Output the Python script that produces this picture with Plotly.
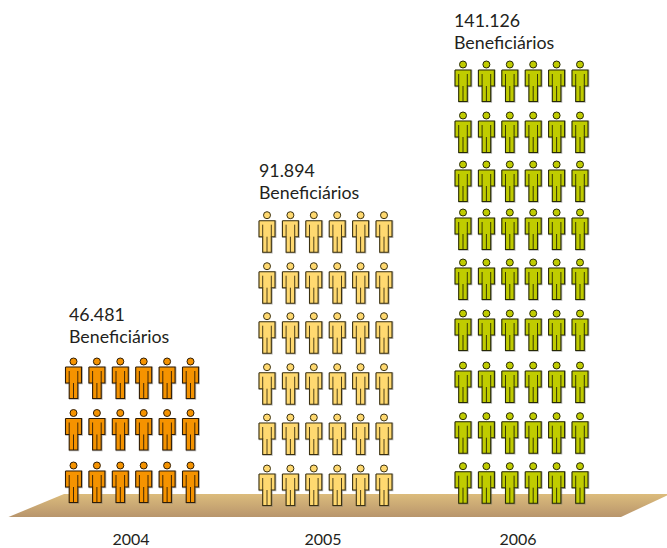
import plotly.graph_objects as go

years = ["2004", "2005", "2006"]
beneficiaries = [46481, 91894, 141126]
value_labels = ["46.481", "91.894", "141.126"]
caption = "Beneficiários"
persons_per_row = 6
beneficiaries_per_row = 15500

# layout of the pictogram (plot units = pixels)
row_tops = [
    [471, 418.5, 367],
    [474, 423, 372.7, 321.7, 271.7, 220.7],
    [471.7, 421.7, 371, 319, 268, 218, 170, 121, 70],
]
col_starts = [73.5, 267, 463]
col_step = 23.4
tick_pos = [131, 323, 518]
label_x = [69, 259, 454]
label_y = [316.5, 172.5, 22.5]
fills = ["#f59300", "#ffd970", "#c0cc00"]
edges = ["#2e1c06", "#3a3010", "#262905"]
floor_x = [64, 670, 621, 8.5, 64]
floor_y = [494, 494, 517, 517, 494]
FONT = "Lato"


def body(cx, t):
    xs = [cx-8, cx+8, cx+8, cx+4.3, cx+4.3, cx-4.3, cx-4.3, cx-8, cx-8, None]
    ys = [t, t, t+16, t+16, t+31.5, t+31.5, t+16, t+16, t, None]
    return xs, ys


def inner(cx, t):
    xs = [cx-4.3, cx-4.3, None, cx+4.3, cx+4.3, None, cx, cx, None]
    ys = [t+4, t+16, None, t+4, t+16, None, t+16, t+31.5, None]
    return xs, ys


fig = go.Figure()
fig.add_trace(go.Scatter(
    x=floor_x, y=floor_y, mode="lines", fill="toself", line=dict(width=0),
    fillgradient=dict(type="vertical", colorscale=[[0, "#b8956c"], [1, "#dcbc7c"]]),
    hoverinfo="skip"))

for i, year in enumerate(years):
    n_rows = round(beneficiaries[i] / beneficiaries_per_row)
    bx, by, ix, iy, sx, sy, hx, hy = [], [], [], [], [], [], [], []
    for t in row_tops[i][:n_rows]:
        for c in range(persons_per_row):
            cx = col_starts[i] + c * col_step
            x, y = body(cx, t)
            bx += x; by += y
            sx += [v + 0.6 if v is not None else None for v in x]
            sy += [v + 0.5 if v is not None else None for v in y]
            x, y = inner(cx, t)
            ix += x; iy += y
            hx.append(cx); hy.append(t - 5.5)
    fig.add_trace(go.Scatter(x=sx, y=sy, mode="lines", line=dict(color="rgba(110,110,110,0.5)", width=1.6), hoverinfo="skip"))
    fig.add_trace(go.Scatter(x=bx, y=by, mode="lines", fill="toself", fillcolor=fills[i],
                             line=dict(color=edges[i], width=1.1), hoverinfo="skip"))
    fig.add_trace(go.Scatter(x=ix, y=iy, mode="lines", line=dict(color=edges[i], width=0.9), hoverinfo="skip"))
    fig.add_trace(go.Scatter(x=hx, y=hy, mode="markers", hoverinfo="skip",
                             marker=dict(size=7, color=fills[i], line=dict(color=edges[i], width=1))))
    fig.add_trace(go.Scatter(
        x=[label_x[i], label_x[i]], y=[label_y[i], label_y[i] + 22.5],
        mode="text", text=[value_labels[i], caption], textposition="middle right",
        textfont=dict(family=FONT, size=17.8, color="#231f20"), hoverinfo="skip"))

fig.update_layout(
    width=667, height=548, margin=dict(l=0, r=0, t=0, b=28),
    paper_bgcolor="white", plot_bgcolor="white", showlegend=False,
    xaxis=dict(range=[0, 667], tickvals=tick_pos, ticktext=years, showgrid=False, zeroline=False,
               showline=False, ticks="outside", ticklen=5, tickcolor="rgba(0,0,0,0)", automargin=False,
               tickfont=dict(family=FONT, size=16, color="#231f20")),
    yaxis=dict(range=[520, 0], visible=False, automargin=False),
)
fig.write_html("out.html", post_script="document.body.style.margin='0';", config={"displayModeBar": False})
